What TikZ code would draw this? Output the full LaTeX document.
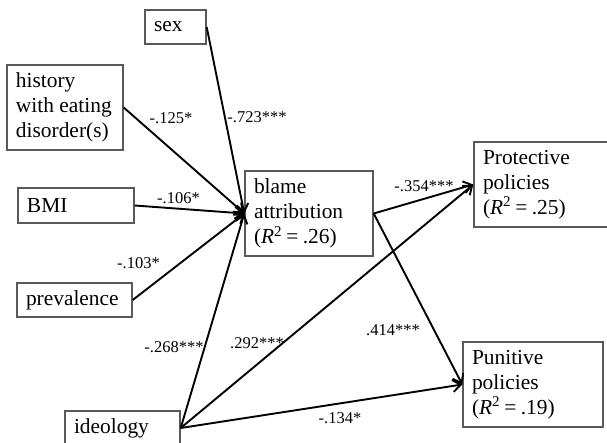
\documentclass[tikz,border=0pt]{standalone}
\usepackage{fontspec}
\setmainfont{Liberation Serif}
\usetikzlibrary{arrows.meta}
\newcommand\nohyphx{\hyphenpenalty=10000 \exhyphenpenalty=10000\relax}
\newcommand\rsq{(\textit{R}\textsuperscript{2}\hspace{0.2em}=\hspace{0.2em}}
\begin{document}
\begin{tikzpicture}[x=1pt,y=-1pt,
  box/.style={draw=black!65, line width=1.4pt, fill=white, inner xsep=9pt, inner ysep=0pt,
    align=flush left, font=\fontsize{21.4}{25}\selectfont\nohyphx, anchor=center},
  conn/.style={draw=black, line width=1.9pt, -{Straight Barb[length=8pt,width=12pt]}},
  lbl/.style={font=\fontsize{16.5}{19}\selectfont, inner sep=0pt, anchor=center}]
\useasboundingbox (0,0) rectangle (607,443);
\fill[white] (0,0) rectangle (607,443);
% boxes
\node[box, text width=43pt, minimum height=34pt] (sex) at (175.5,27) {sex};
\node[box, text width=98pt, minimum height=85pt] (hist) at (65,107.5) {history\\with eating\\disorder(s)};
\node[box, text width=98pt, minimum height=35pt] (bmi) at (76,205.5) {BMI};
\node[box, text width=97pt, minimum height=34pt] (prev) at (74.5,300) {prevalence};
\node[box, text width=97pt, minimum height=34pt] (ideo) at (122.5,428) {ideology};
\node[box, text width=110pt, minimum height=85pt] (blame) at (309,213.5) {blame\\attribution\\\rsq.26)};
\node[box, text width=120pt, minimum height=85pt] (prot) at (543,184.5) {Protective\\policies\\\rsq.25)};
\node[box, text width=122pt, minimum height=85pt] (puni) at (533,384.5) {Punitive\\policies\\\rsq.19)};
% connectors
\draw[conn] (sex.east) -- (blame.west);
\draw[conn] (hist.east) -- (blame.west);
\draw[conn] (bmi.east) -- (blame.west);
\draw[conn] (prev.east) -- (blame.west);
\draw[conn] (ideo.east) -- (blame.west);
\draw[conn] (ideo.east) -- (prot.west);
\draw[conn] (ideo.east) -- (puni.west);
\draw[conn] (blame.east) -- (prot.west);
\draw[conn] (blame.east) -- (puni.west);
% labels
\node[lbl] (l1) at (257,117) {-.723***};
\node[lbl] (l2) at (171,118) {-.125*};
\node[lbl] (l3) at (178.5,198) {-.106*};
\node[lbl] (l4) at (138.5,263) {-.103*};
\node[lbl] (l5) at (174,347) {-.268***};
\node[lbl] (l6) at (257,343) {.292***};
\node[lbl] (l7) at (424,186) {-.354***};
\node[lbl] (l8) at (393,330) {.414***};
\node[lbl] (l9) at (340,418) {-.134*};
\end{tikzpicture}
\end{document}
